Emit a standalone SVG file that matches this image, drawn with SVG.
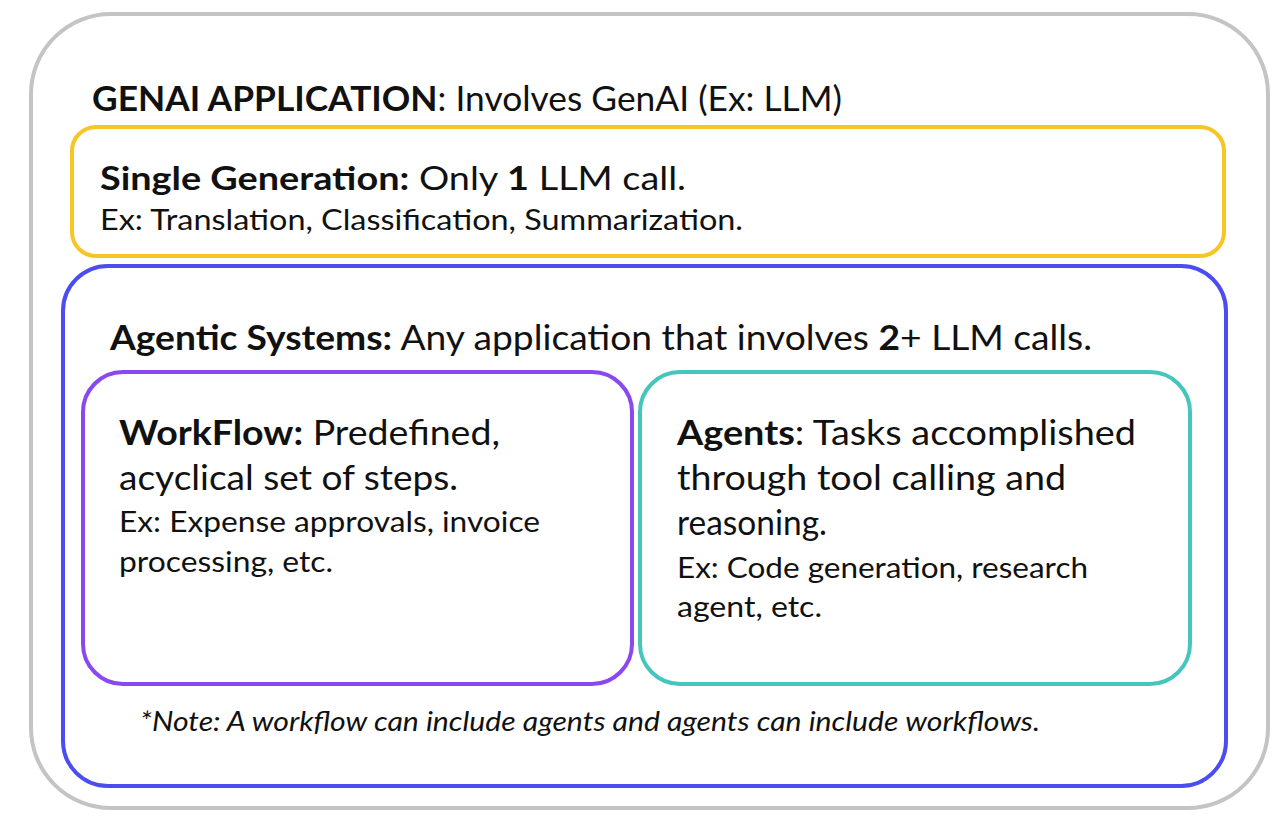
<svg xmlns="http://www.w3.org/2000/svg" width="1282" height="826" viewBox="0 0 1282 826">
<style>
text{font-family:Lato,"Noto Sans",sans-serif;fill:#111;}
.b{font-weight:bold;}
.box{fill:none;stroke-width:4;}
</style>
<rect width="1282" height="826" fill="#fff"/>
<g id="genai"><rect class="box" x="31" y="14" width="1237" height="794" rx="80" stroke="#c4c4c4"/>
<text x="92" y="111" font-size="34" textLength="750" lengthAdjust="spacingAndGlyphs"><tspan class="b">GENAI APPLICATION</tspan>: Involves GenAI (Ex: LLM)</text></g>
<g id="single"><rect class="box" x="72" y="127" width="1152" height="129" rx="24" stroke="#f6c624"/>
<text x="100" y="190" font-size="33" textLength="586" lengthAdjust="spacingAndGlyphs"><tspan class="b">Single Generation:</tspan> Only <tspan class="b">1</tspan> LLM call.</text>
<text x="100" y="230" font-size="29" textLength="643" lengthAdjust="spacingAndGlyphs">Ex: Translation, Classification, Summarization.</text></g>
<g id="agentic"><rect class="box" x="63" y="266" width="1163" height="520" rx="45" stroke="#4b4cf2"/>
<text x="110" y="350" font-size="34" textLength="982" lengthAdjust="spacingAndGlyphs"><tspan class="b">Agentic Systems:</tspan> Any application that involves <tspan class="b">2</tspan>+ LLM calls.</text>
<text x="140" y="731" font-size="27" font-style="italic" fill="#333" textLength="900" lengthAdjust="spacingAndGlyphs">*Note: A workflow can include agents and agents can include workflows.</text></g>
<g id="workflow"><rect class="box" x="83" y="372" width="549" height="312" rx="40" stroke="#8a48f0"/>
<text x="119" y="445" font-size="35" textLength="381" lengthAdjust="spacingAndGlyphs"><tspan class="b">WorkFlow:</tspan> Predefined,</text>
<text x="119" y="490" font-size="35" textLength="339" lengthAdjust="spacingAndGlyphs">acyclical set of steps.</text>
<text x="119" y="532" font-size="29" textLength="421" lengthAdjust="spacingAndGlyphs">Ex: Expense approvals, invoice</text>
<text x="119" y="572" font-size="29" textLength="214" lengthAdjust="spacingAndGlyphs">processing, etc.</text></g>
<g id="agents"><rect class="box" x="640" y="372" width="550" height="312" rx="40" stroke="#45c5bc"/>
<text x="677" y="445" font-size="35" textLength="459" lengthAdjust="spacingAndGlyphs"><tspan class="b">Agents</tspan>: Tasks accomplished</text>
<text x="677" y="490" font-size="35" textLength="389" lengthAdjust="spacingAndGlyphs">through tool calling and</text>
<text x="677" y="535" font-size="35" textLength="150" lengthAdjust="spacingAndGlyphs">reasoning.</text>
<text x="677" y="578" font-size="29" textLength="411" lengthAdjust="spacingAndGlyphs">Ex: Code generation, research</text>
<text x="677" y="617" font-size="29" textLength="145" lengthAdjust="spacingAndGlyphs">agent, etc.</text></g>
<g id="connectors"/>
</svg>
